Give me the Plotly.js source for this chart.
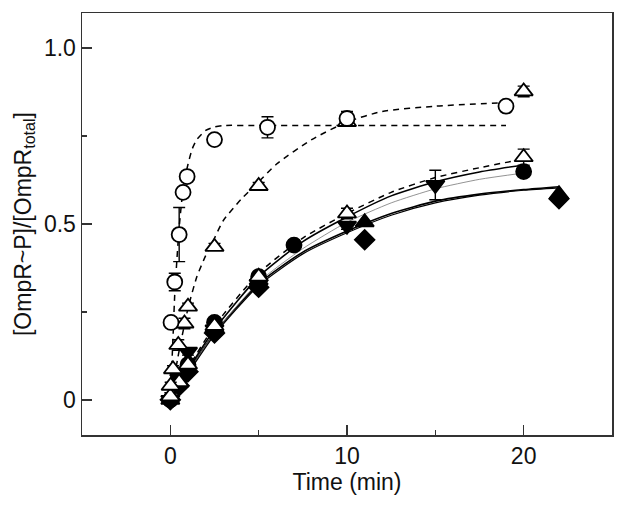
<!DOCTYPE html>
<html>
<head>
<meta charset="utf-8">
<script src="https://cdn.plot.ly/plotly-3.0.1.min.js"></script>
<style>html,body{margin:0;padding:0;background:#fff;}#chart{width:624px;height:506px;}</style>
</head>
<body>
<div id="chart"></div>
<script>
// Open circles
var circT = [0.04, 0.25, 0.5, 0.72, 0.95, 2.5, 5.5, 10, 19];
var circY = [0.22, 0.335, 0.47, 0.59, 0.635, 0.74, 0.775, 0.80, 0.835];
var circErr = [0.01, 0.025, 0.077, 0.01, 0.01, 0.01, 0.03, 0.02, 0.01];
// Open triangles (fast)
var triT = [0.02, 0.15, 0.45, 0.8, 1.0, 2.5, 5, 10, 20];
var triY = [0.04, 0.087, 0.156, 0.217, 0.265, 0.435, 0.608, 0.79, 0.877];
var triErr = [0.01, 0.01, 0.015, 0.015, 0.01, 0.01, 0.01, 0.01, 0.015];
// Open triangles (slow)
var tri2T = [0, 0.5, 1, 2.5, 5, 10, 20];
var tri2Y = [0.01, 0.05, 0.10, 0.21, 0.35, 0.53, 0.69];
var tri2Err = [0.01, 0.01, 0.01, 0.01, 0.01, 0.015, 0.023];
// Filled circles
var fcT = [0, 0.5, 1, 2.5, 5, 7, 20];
var fcY = [0, 0.05, 0.10, 0.22, 0.35, 0.44, 0.649];
// Filled down triangles
var fdT = [0, 0.5, 1, 2.5, 5, 10, 15];
var fdY = [0, 0.06, 0.137, 0.20, 0.33, 0.495, 0.611];
var fdErr = [0.005, 0.01, 0.01, 0.01, 0.01, 0.01, 0.042];
// Filled up triangles
var fuT = [0, 0.5, 1, 2.5, 5, 11, 22];
var fuY = [0, 0.05, 0.09, 0.205, 0.34, 0.505, 0.585];
// Filled diamonds
var fmT = [0, 0.5, 1, 2.5, 5, 11, 22];
var fmY = [0, 0.04, 0.08, 0.19, 0.32, 0.455, 0.572];

// Fit curves
var fitAT = [0, 0.17, 0.25, 0.5, 0.75, 1, 1.25, 1.5, 2, 2.5, 3, 5, 10, 15, 19];
var fitAY = [0, 0.2, 0.30, 0.49, 0.61, 0.67, 0.715, 0.74, 0.766, 0.776, 0.78, 0.78, 0.78, 0.78, 0.78];
var fitBT = [0, 0.5, 1, 1.5, 2, 2.5, 3, 4, 5, 6, 8, 10, 12, 15, 19];
var fitBY = [0, 0.14, 0.26, 0.35, 0.41, 0.46, 0.51, 0.57, 0.62, 0.67, 0.74, 0.79, 0.82, 0.835, 0.845];
var fitCT = [0, 1, 2.5, 5, 7.5, 10, 12.5, 15, 17.5, 19.5];
var fitCY = [0, 0.09, 0.21, 0.36, 0.46, 0.53, 0.59, 0.632, 0.66, 0.68];
var fitDT = [0, 1, 2.5, 5, 7.5, 10, 12.5, 15, 17.5, 20];
var fitDY = [0, 0.085, 0.2, 0.35, 0.45, 0.52, 0.58, 0.62, 0.648, 0.668];
var fitEY = [0, 0.08, 0.19, 0.335, 0.43, 0.505, 0.56, 0.60, 0.627, 0.645];
var fitFT = [0, 1, 2.5, 5, 7.5, 10, 12.5, 15, 17.5, 20, 22];
var fitFY = [0, 0.08, 0.19, 0.33, 0.42, 0.48, 0.53, 0.565, 0.585, 0.598, 0.606];
var fitGY = [0, 0.075, 0.185, 0.325, 0.415, 0.475, 0.525, 0.56, 0.582, 0.596, 0.603];

var traces = [];
function line(x, y, dash, w, col) {
  traces.push({x: x, y: y, type: 'scatter', mode: 'lines', line: {shape: 'spline', smoothing: 0.6, color: col || 'black', width: w, dash: dash}, hoverinfo: 'skip'});
}
line(fitAT, fitAY, '6px,5px', 1.5);
line(fitBT, fitBY, '6px,5px', 1.5);
line(fitFT, fitFY, 'solid', 1.6);
line(fitFT, fitGY, 'solid', 1.2);
line(fitDT, fitEY, 'solid', 0.8, '#777');
line(fitDT, fitDY, 'solid', 1.6);
line(fitCT, fitCY, '6px,5px', 1.5);

function pts(x, y, sym, fill, err, size) {
  var t = {x: x, y: y, type: 'scatter', mode: 'markers',
    marker: {symbol: sym, size: size || 14, color: fill, line: {color: 'black', width: 1.8}}};
  if (err) t.error_y = {type: 'data', array: err, visible: true, color: 'black', thickness: 1.4, width: 6};
  traces.push(t);
}
pts(fcT, fcY, 'circle', 'black', null, 15);
pts(fdT, fdY, 'triangle-down', 'black', fdErr, 16);
pts(fmT, fmY, 'diamond', 'black', null, 15);
pts(fuT, fuY, 'triangle-up', 'black', null, 16);
pts(tri2T, tri2Y, 'triangle-up', 'white', tri2Err, 16);
pts(triT, triY, 'triangle-up', 'white', triErr, 16);
pts(circT, circY, 'circle', 'white', circErr, 15);

var font = {family: 'Liberation Sans, Arial, sans-serif', size: 23, color: '#111'};
var layout = {
  width: 624, height: 506,
  margin: {l: 82, r: 12, t: 13, b: 71},
  paper_bgcolor: 'white', plot_bgcolor: 'white',
  showlegend: false,
  font: font,
  xaxis: {
    range: [-5, 25], tickvals: [0, 10, 20], ticktext: ['0', '10', '20'],
    ticks: 'inside', ticklen: 10, tickwidth: 1.5, tickcolor: '#333',
    minor: {tickvals: [5, 15], ticks: 'inside', ticklen: 5, tickwidth: 1.5, tickcolor: '#333'},
    showline: true, mirror: true, linecolor: '#333', linewidth: 1.5,
    showgrid: false, zeroline: false, tickfont: font,
    title: {text: 'Time (min)', font: font, standoff: 4}
  },
  yaxis: {
    range: [-0.1, 1.1], tickvals: [0, 0.5, 1], ticktext: ['0', '0.5', '1.0'],
    ticks: 'inside', ticklen: 10, tickwidth: 1.5, tickcolor: '#333',
    minor: {tickvals: [0.25, 0.75], ticks: 'inside', ticklen: 5, tickwidth: 1.5, tickcolor: '#333'},
    showline: true, mirror: true, linecolor: '#333', linewidth: 1.5,
    showgrid: false, zeroline: false, tickfont: font,
    title: {text: '[OmpR~P]/[OmpR<sub>total</sub>]', font: font, standoff: 6}
  }
};
Plotly.newPlot('chart', traces, layout, {staticPlot: true, displayModeBar: false});
</script>
</body>
</html>
